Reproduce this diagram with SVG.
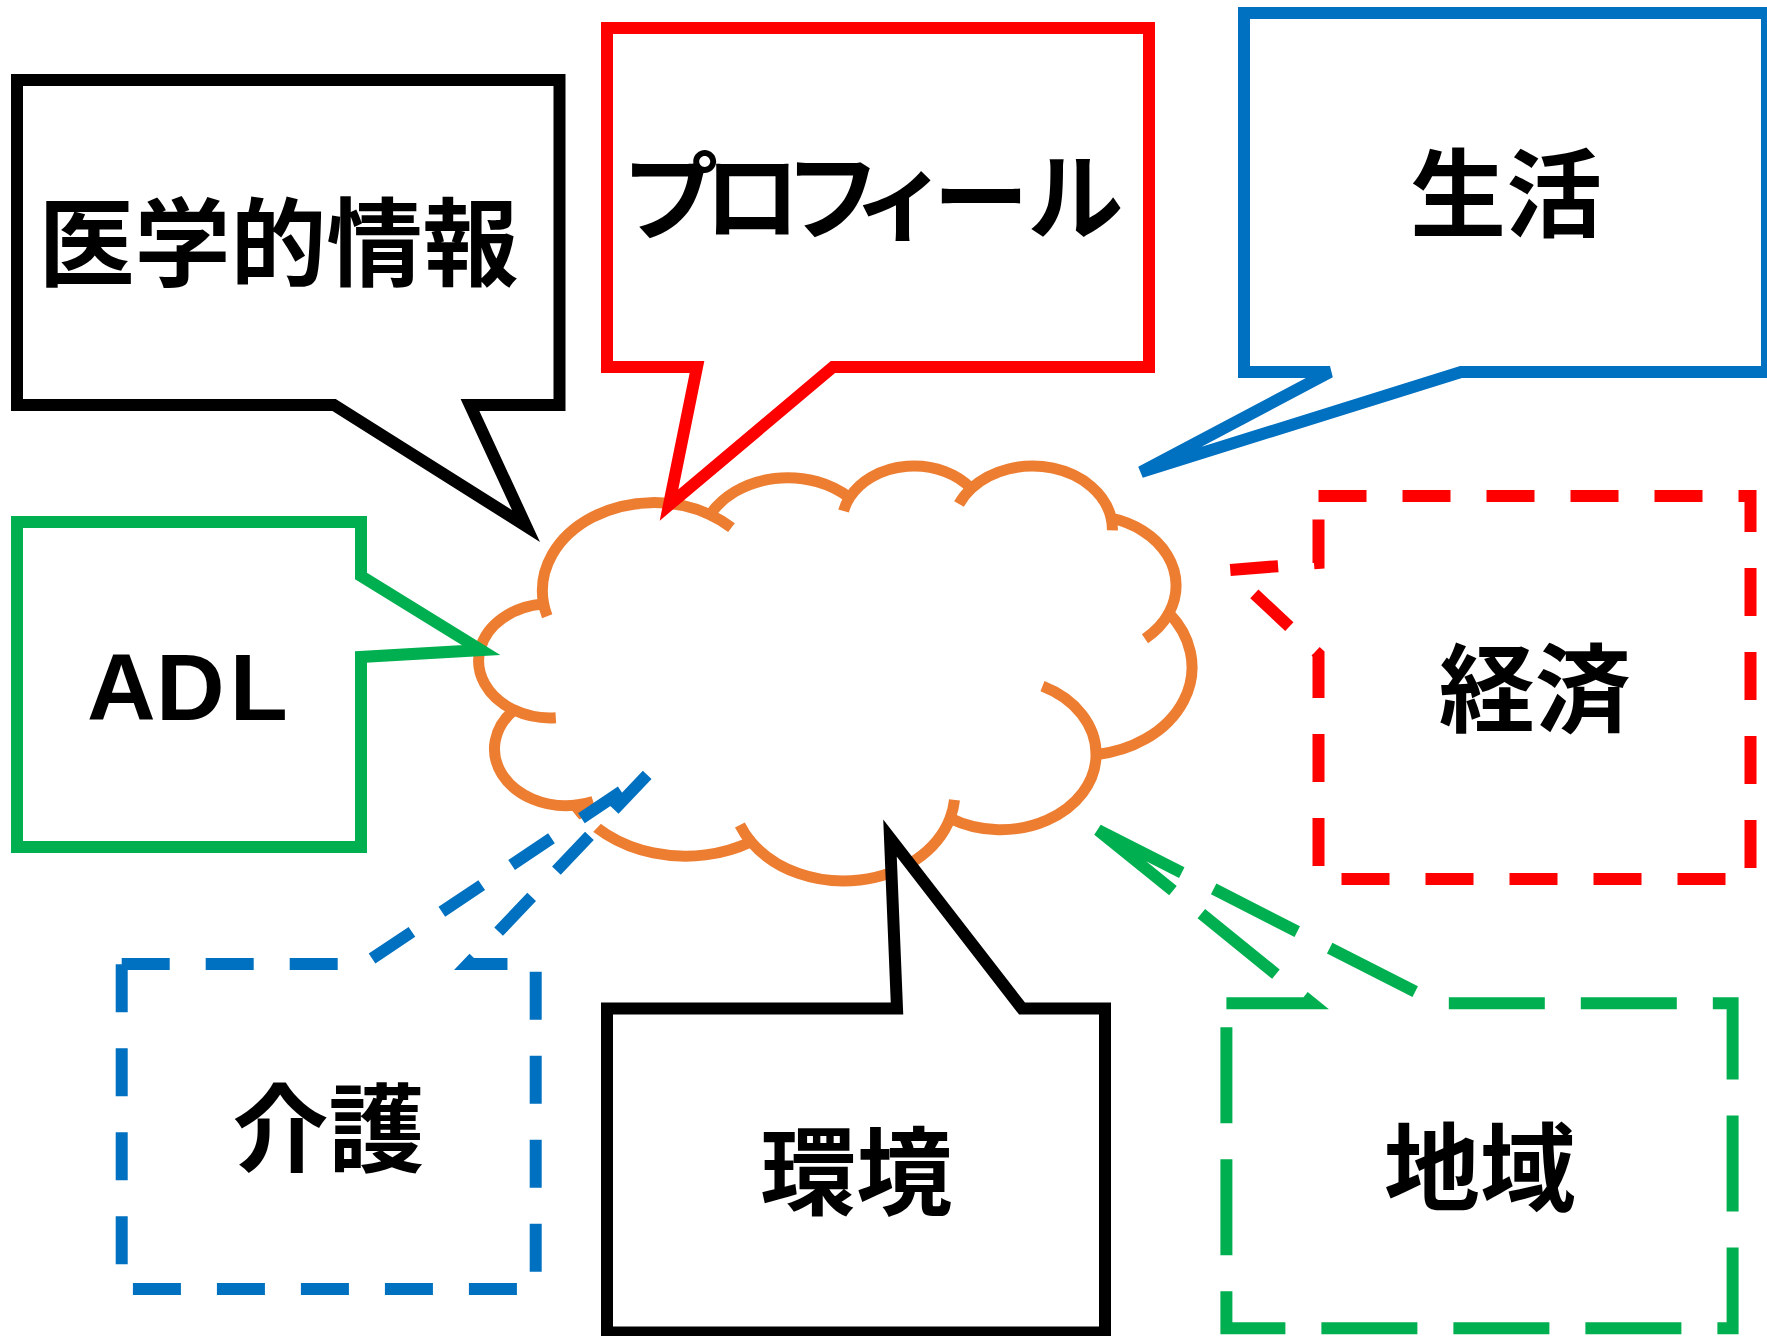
<svg xmlns="http://www.w3.org/2000/svg" width="1767" height="1336" viewBox="0 0 1767 1336">
<style>
.bg{fill:#ffffff}
.co{fill:#ffffff;stroke-width:12;stroke-linejoin:miter;stroke-linecap:butt}
.k{stroke:#000000}
.r{stroke:#FF0000}
.b{stroke:#0070C0}
.g{stroke:#00B050}
.d4{stroke-dasharray:48 36}
.cl{fill:#ffffff;stroke:#ED7D31;stroke-width:11;stroke-linejoin:round}
.ci{fill:none;stroke:#ED7D31;stroke-width:11;stroke-linecap:butt}
.t{font-family:"Noto Sans CJK JP","Noto Sans CJK SC",sans-serif;font-weight:700;font-size:96px;fill:#000000}
.lat{font-family:"Liberation Sans",Arial,sans-serif;font-weight:700;font-size:95px;fill:#000000}
</style>
<rect class="bg" x="0" y="0" width="1767" height="1336"/>
<g id="cloud">
<path class="cl" d="M543.4,602.7 A111.4,88.2 0 0 1 710.1,514.7 A88,69.8 0 0 1 849.5,497.7 A72,57.1 0 0 1 971.2,488.5 A80.1,63.3 0 0 1 1111.2,518.2 A88,69.8 0 0 1 1168.9,613.2 A111.8,88.5 0 0 1 1096.1,754.7 A95.4,75.5 0 0 1 950.1,818.2 A111.4,88.5 0 0 1 751,841.7 A127.3,101.2 0 0 1 574.9,805.3 A71.9,56.8 0 0 1 514,710 A71.7,57.1 0 0 1 542.8,604 Z"/>
<path class="ci" d="M710.1,514.7 A111.4,88.2 0 0 1 731.5,527.6 M547.2,616.3 A111.4,88.2 0 0 1 543.4,602.7 M555.8,717.7 A71.7,57.1 0 0 1 514,710 M593.2,801.6 A71.9,56.8 0 0 1 574.9,805.3 M751,841.7 A111.4,88.5 0 0 1 739.9,825 M954.5,799.9 A111.4,88.5 0 0 1 950.1,818.2 M1042.5,686.2 A95.4,75.5 0 0 1 1096.1,754.7 M1168.9,613.2 A88,69.8 0 0 1 1145,638.8 M1111.2,518.2 A80.1,63.3 0 0 1 1112.4,530.4 M959,504 A80.1,63.3 0 0 1 971.2,488.5 M843.6,511 A72,57.1 0 0 1 849.5,497.7"/>
</g>
<g id="connectors"></g>
<g id="node-medical">
<path class="co k" d="M17,80 H559.5 V405 H470 L526,526 L334,405 H17 Z"/>
<text class="t" x="278.5" y="278" text-anchor="middle">医学的情報</text>
</g>
<g id="node-profile">
<path class="co r" d="M607,28 H1149 V367 H833 L669,505 L697,367 H607 Z"/>
<text class="t" x="622 704 784.5 852.4 933 1027.6" y="232">プロフィール</text>
</g>
<g id="node-life">
<path class="co b" d="M1244,13 H1767 V372 H1461 L1141,472 L1330,372 H1244 Z"/>
<text class="t" x="1506" y="229" text-anchor="middle">生活</text>
</g>
<g id="node-adl">
<path class="co g" d="M17,522 H361 V576 L481,650 L361,657 V847 H17 Z"/>
<text class="lat" x="87 156 229.8" y="720">ADL</text>
</g>
<g id="node-economy">
<path class="co r d4" d="M1318.5,496 H1750.5 V879 H1318.5 V654 L1229,570 L1318.5,563 Z"/>
<text class="t" x="1534.7" y="724" text-anchor="middle">経済</text>
</g>
<g id="node-care">
<path class="co b d4" d="M121.7,964 H364 L649,773 L468,964 H535.7 V1289 H121.7 Z"/>
<text class="t" x="328.6" y="1164" text-anchor="middle">介護</text>
</g>
<g id="node-environment">
<path class="co k" d="M607,1008.5 H897 L890,838 L1022,1008.5 H1105 V1332.5 H607 Z"/>
<text class="t" x="856.2" y="1207" text-anchor="middle">環境</text>
</g>
<g id="node-region">
<path class="co g" style="stroke-dasharray:96 36 96 36.5 190.5 35.8 93.8 36.4 96 36.4 96 36 96 36 96 36 96 36 96 36 96 36 96 36 96 36 96 36 96 36 96 36" d="M1226.4,1003.3 H1312 L1098,830 L1438,1003.3 H1732.6 V1328.3 H1226.4 Z"/>
<text class="t" x="1480" y="1203" text-anchor="middle">地域</text>
</g>
</svg>
